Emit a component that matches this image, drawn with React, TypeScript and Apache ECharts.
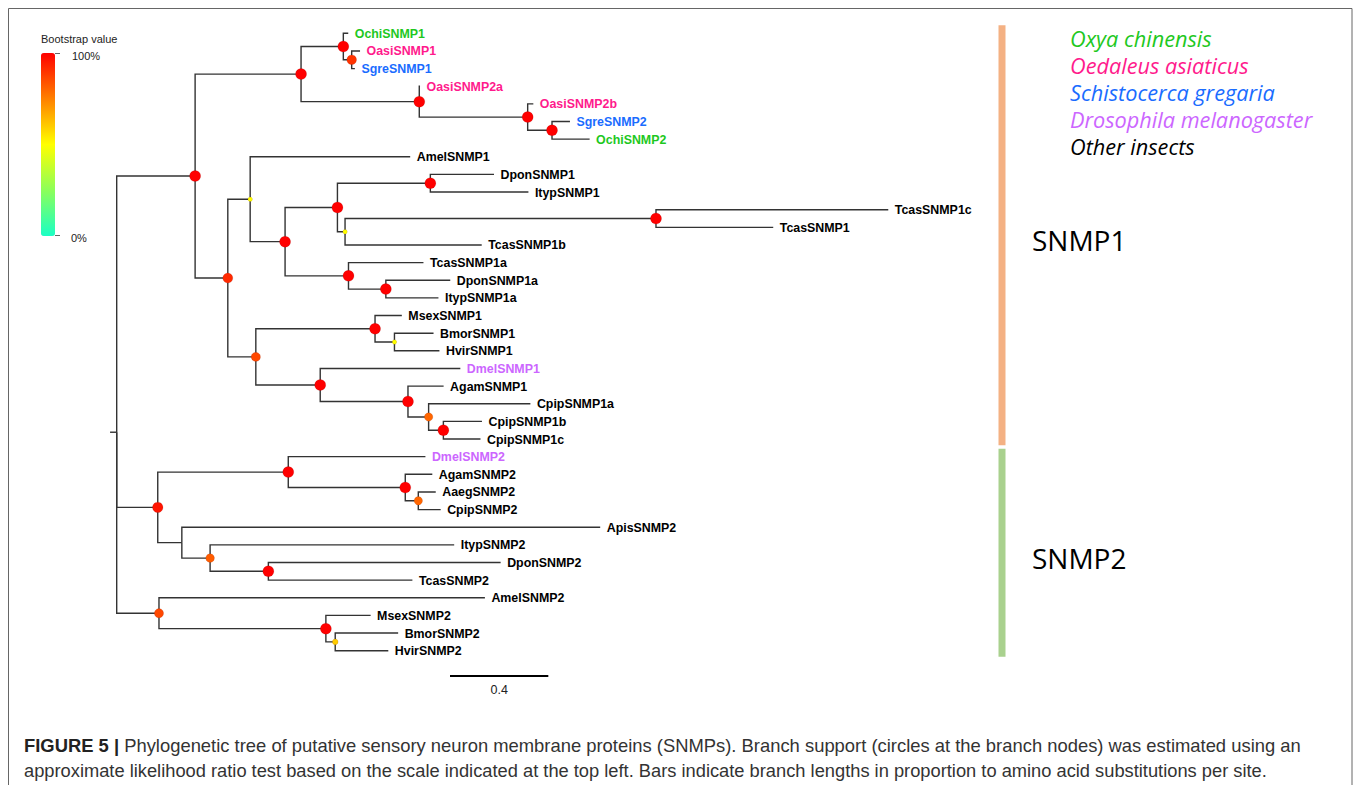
import { useEffect, useRef } from 'react';
import * as echarts from 'echarts';

// ---------- data ----------
const leafNames = [
  'OchiSNMP1', 'OasiSNMP1', 'SgreSNMP1', 'OasiSNMP2a', 'OasiSNMP2b', 'SgreSNMP2', 'OchiSNMP2',
  'AmelSNMP1', 'DponSNMP1', 'ItypSNMP1', 'TcasSNMP1c', 'TcasSNMP1', 'TcasSNMP1b', 'TcasSNMP1a',
  'DponSNMP1a', 'ItypSNMP1a', 'MsexSNMP1', 'BmorSNMP1', 'HvirSNMP1', 'DmelSNMP1', 'AgamSNMP1',
  'CpipSNMP1a', 'CpipSNMP1b', 'CpipSNMP1c', 'DmelSNMP2', 'AgamSNMP2', 'AaegSNMP2', 'CpipSNMP2',
  'ApisSNMP2', 'ItypSNMP2', 'DponSNMP2', 'TcasSNMP2', 'AmelSNMP2', 'MsexSNMP2', 'BmorSNMP2', 'HvirSNMP2',
];

// [child, parent, branch length (substitutions per site)]
const branches: [string, string, number][] = [
  ['A', 'root', 0.319],
  ['A1', 'A', 0.431],
  ['a1', 'A1', 0.172],
  ['OchiSNMP1', 'a1', 0.020],
  ['a2', 'a1', 0.034],
  ['OasiSNMP1', 'a2', 0.034],
  ['SgreSNMP1', 'a2', 0.013],
  ['a3', 'A1', 0.481],
  ['OasiSNMP2a', 'a3', 0.003],
  ['a4', 'a3', 0.441],
  ['OasiSNMP2b', 'a4', 0.023],
  ['a5', 'a4', 0.099],
  ['SgreSNMP2', 'a5', 0.073],
  ['OchiSNMP2', 'a5', 0.153],
  ['B', 'A', 0.133],
  ['b1', 'B', 0.091],
  ['AmelSNMP1', 'b1', 0.651],
  ['b2', 'b1', 0.142],
  ['b3', 'b2', 0.213],
  ['b4', 'b3', 0.378],
  ['DponSNMP1', 'b4', 0.259],
  ['ItypSNMP1', 'b4', 0.399],
  ['b5', 'b3', 0.031],
  ['b6', 'b5', 1.265],
  ['TcasSNMP1c', 'b6', 0.945],
  ['TcasSNMP1', 'b6', 0.477],
  ['TcasSNMP1b', 'b5', 0.556],
  ['b7', 'b2', 0.258],
  ['TcasSNMP1a', 'b7', 0.305],
  ['b8', 'b7', 0.152],
  ['DponSNMP1a', 'b8', 0.262],
  ['ItypSNMP1a', 'b8', 0.214],
  ['C', 'B', 0.114],
  ['c1', 'C', 0.485],
  ['MsexSNMP1', 'c1', 0.109],
  ['c2', 'c1', 0.079],
  ['BmorSNMP1', 'c2', 0.159],
  ['HvirSNMP1', 'c2', 0.183],
  ['c3', 'C', 0.262],
  ['DmelSNMP1', 'c3', 0.570],
  ['c4', 'c3', 0.357],
  ['AgamSNMP1', 'c4', 0.145],
  ['c5', 'c4', 0.084],
  ['CpipSNMP1a', 'c5', 0.414],
  ['c6', 'c5', 0.060],
  ['CpipSNMP1b', 'c6', 0.157],
  ['CpipSNMP1c', 'c6', 0.151],
  ['D', 'root', 0.167],
  ['d1', 'D', 0.531],
  ['DmelSNMP2', 'd1', 0.558],
  ['d2', 'd1', 0.476],
  ['AgamSNMP2', 'd2', 0.110],
  ['d3', 'd2', 0.053],
  ['AaegSNMP2', 'd3', 0.071],
  ['CpipSNMP2', 'd3', 0.091],
  ['E', 'D', 0.098],
  ['ApisSNMP2', 'E', 1.702],
  ['e1', 'E', 0.115],
  ['ItypSNMP2', 'e1', 0.993],
  ['e2', 'e1', 0.237],
  ['DponSNMP2', 'e2', 0.945],
  ['TcasSNMP2', 'e2', 0.586],
  ['F', 'root', 0.172],
  ['AmelSNMP2', 'F', 1.326],
  ['f1', 'F', 0.679],
  ['MsexSNMP2', 'f1', 0.182],
  ['f2', 'f1', 0.038],
  ['BmorSNMP2', 'f2', 0.256],
  ['HvirSNMP2', 'f2', 0.216],
];
const rootStub = 0.027;

const supportNodes = ['A', 'A1', 'a1', 'a2', 'a3', 'a4', 'a5', 'B', 'b1', 'b2', 'b3', 'b4', 'b5', 'b6', 'b7', 'b8',
  'C', 'c1', 'c2', 'c3', 'c4', 'c5', 'c6', 'D', 'd1', 'd2', 'd3', 'e1', 'e2', 'F', 'f1', 'f2'];
const supportValues = [1.0, 1.0, 1.0, 0.9, 1.0, 1.0, 1.0, 0.92, 0.5, 1.0, 1.0, 1.0, 0.5, 1.0, 1.0, 1.0,
  0.86, 1.0, 0.5, 1.0, 1.0, 0.8, 1.0, 0.96, 1.0, 1.0, 0.8, 0.82, 1.0, 0.86, 1.0, 0.6];

const speciesCodes = ['Ochi', 'Oasi', 'Sgre', 'Dmel'];
const speciesLabels = ['Oxya chinensis', 'Oedaleus asiaticus', 'Schistocerca gregaria', 'Drosophila melanogaster', 'Other insects'];
const speciesColors = ['#1ec81e', '#ff1a8c', '#1a6cff', '#cc66ff', '#000000'];

const cladeNames = ['SNMP1', 'SNMP2'];
const cladeFirstLeaf = [0, 24];
const cladeLastLeaf = [23, 35];
const cladeColors = ['#f4b183', '#a9d18e'];

const scaleBarLength = 0.4;
const supportColorStops = ['#1affc4', '#8cff5a', '#ffff00', '#ff8000', '#ff0000'];
const legendTitle = 'Bootstrap value';
const legendTicks = ['100%', '0%'];

const captionBold = 'FIGURE 5 |';
const captionLines = [
  ' Phylogenetic tree of putative sensory neuron membrane proteins (SNMPs). Branch support (circles at the branch nodes) was estimated using an',
  'approximate likelihood ratio test based on the scale indicated at the top left. Bars indicate branch lengths in proportion to amino acid substitutions per site.',
];

// ---------- layout from data ----------
function buildTree() {
  const children: Record<string, string[]> = {};
  const lenOf: Record<string, number> = {};
  const parentOf: Record<string, string> = {};
  branches.forEach(([c, p, l]) => {
    (children[p] = children[p] || []).push(c);
    lenOf[c] = l;
    parentOf[c] = p;
  });
  const xPos: Record<string, number> = { root: 0 };
  const yPos: Record<string, number> = {};
  leafNames.forEach((n, i) => { yPos[n] = i; });
  const setX = (n: string) => {
    (children[n] || []).forEach((c) => { xPos[c] = xPos[n] + lenOf[c]; setX(c); });
  };
  setX('root');
  const getY = (n: string): number => {
    if (yPos[n] !== undefined) return yPos[n];
    const ys = children[n].map(getY);
    yPos[n] = ys.reduce((a, b) => a + b, 0) / ys.length;
    return yPos[n];
  };
  getY('root');
  return { xPos, yPos, parentOf };
}

const fontArial = '"Liberation Sans", Arial, Helvetica, sans-serif';
const fontSegoe = '"Open Sans", "Noto Sans", sans-serif';

export default function App() {
  const ref = useRef<HTMLDivElement>(null);
  useEffect(() => {
    if (!ref.current) return;
    const chart = echarts.init(ref.current, null, { renderer: 'svg' });
    const { xPos, yPos, parentOf } = buildTree();

    const branchData = branches.map(([c]) => [xPos[c], yPos[c], xPos[parentOf[c]], yPos[parentOf[c]]]);
    branchData.push([0, yPos.root, -rootStub, yPos.root]);

    const leafData = leafNames.map((n) => {
      const si = speciesCodes.findIndex((s) => n.startsWith(s));
      return [xPos[n], yPos[n], si < 0 ? 4 : si];
    });
    const nodeData = supportNodes.map((n, i) => [xPos[n], yPos[n], supportValues[i]]);
    const cladeData = cladeNames.map((_n, i) => [cladeFirstLeaf[i], cladeLastLeaf[i], i]);

    const pxPerUnit = 245.8;
    const xMin = -0.2;
    const xMax = 4.8;

    const option: any = {
      animation: false,
      backgroundColor: '#ffffff',
      grid: { left: 116.7 + xMin * pxPerUnit, top: 33.3, width: (xMax - xMin) * pxPerUnit, height: 617.4 },
      xAxis: { type: 'value', min: xMin, max: xMax, show: false },
      yAxis: { type: 'value', min: 0, max: leafNames.length - 1, inverse: true, show: false },
      visualMap: {
        type: 'continuous', min: 0, max: 1, dimension: 2, seriesIndex: 2,
        inRange: { color: supportColorStops },
        left: 41, top: 53, itemWidth: 14, itemHeight: 183, padding: 0,
        calculable: false, hoverLink: false, show: true,
      },
      series: [
        {
          type: 'custom', name: 'branches', data: branchData, silent: true,
          encode: { x: [0, 2], y: [1, 3] },
          renderItem: (_p: any, api: any) => {
            const c = api.coord([api.value(0), api.value(1)]);
            const p = api.coord([api.value(2), api.value(3)]);
            return {
              type: 'polyline',
              shape: { points: [[p[0], p[1]], [p[0], c[1]], [c[0], c[1]]] },
              style: { stroke: '#333333', lineWidth: 1.4, fill: null },
            };
          },
        },
        {
          type: 'custom', name: 'leaves', data: leafData, silent: true,
          encode: { x: 0, y: 1 },
          renderItem: (p: any, api: any) => {
            const c = api.coord([api.value(0), api.value(1)]);
            const si = api.value(2) as number;
            return {
              type: 'text', x: c[0] + 6.5, y: c[1] + 0.5,
              style: {
                text: leafNames[p.dataIndex], fill: speciesColors[si],
                font: `bold 12.4px ${fontArial}`,
                align: 'left', verticalAlign: 'middle', textAlign: 'left', textVerticalAlign: 'middle',
              },
            };
          },
        },
        {
          type: 'scatter', name: 'support', data: nodeData, silent: true,
          symbol: 'circle',
          symbolSize: (v: number[]) => 4.5 + (v[2] - 0.5) * 13,
          itemStyle: { opacity: 1, borderColor: 'rgba(90,0,0,0.25)', borderWidth: 0.5 },
          z: 5,
        },
        {
          type: 'custom', name: 'clades', data: cladeData, silent: true,
          encode: { y: [0, 1] },
          renderItem: (p: any, api: any) => {
            const top = api.coord([0, (api.value(0) as number) - 0.45])[1];
            const bot = api.coord([0, (api.value(1) as number) + 0.35])[1];
            const i = p.dataIndex;
            return {
              type: 'group',
              children: [
                { type: 'rect', shape: { x: 998.5, y: top, width: 7, height: bot - top }, style: { fill: cladeColors[i] } },
                {
                  type: 'text', x: 1032, y: (top + bot) / 2 + 5,
                  style: {
                    text: cladeNames[i], fill: '#000', font: `28px ${fontSegoe}`,
                    align: 'left', verticalAlign: 'middle', textAlign: 'left', textVerticalAlign: 'middle',
                  },
                },
              ],
            };
          },
        },
        {
          type: 'custom', name: 'scalebar', data: [[scaleBarLength]], silent: true,
          renderItem: (_p: any, api: any) => {
            const w = api.size([api.value(0), 0])[0];
            const x0 = 450;
            const y0 = 676;
            return {
              type: 'group',
              children: [
                { type: 'line', shape: { x1: x0, y1: y0, x2: x0 + w, y2: y0 }, style: { stroke: '#000', lineWidth: 2 } },
                {
                  type: 'text', x: x0 + w / 2, y: y0 + 14,
                  style: {
                    text: String(scaleBarLength), fill: '#222', font: `12.5px ${fontArial}`,
                    align: 'center', verticalAlign: 'middle', textAlign: 'center', textVerticalAlign: 'middle',
                  },
                },
              ],
            };
          },
        },
      ],
      graphic: [
        { type: 'rect', shape: { x: 8.5, y: 8.5, width: 1343.5, height: 800 }, style: { fill: null, stroke: '#666', lineWidth: 1 }, silent: true, z: -10 },
        { type: 'text', x: 41, y: 39, style: { text: legendTitle, fill: '#222', font: `11px ${fontArial}`, textVerticalAlign: 'middle', verticalAlign: 'middle' } },
        { type: 'line', shape: { x1: 55, y1: 53.5, x2: 60, y2: 53.5 }, style: { stroke: '#666', lineWidth: 1 } },
        { type: 'line', shape: { x1: 55, y1: 235.5, x2: 60, y2: 235.5 }, style: { stroke: '#666', lineWidth: 1 } },
        { type: 'text', x: 72, y: 56, style: { text: legendTicks[0], fill: '#222', font: `11px ${fontArial}`, textVerticalAlign: 'middle', verticalAlign: 'middle' } },
        { type: 'text', x: 71, y: 238, style: { text: legendTicks[1], fill: '#222', font: `11px ${fontArial}`, textVerticalAlign: 'middle', verticalAlign: 'middle' } },
        ...speciesLabels.map((t, i) => ({
          type: 'text', x: 1070, y: 38.5 + i * 27,
          style: { text: t, fill: speciesColors[i], font: `italic 21.7px ${fontSegoe}`, textVerticalAlign: 'middle', verticalAlign: 'middle' },
        })),
        {
          type: 'text', x: 24, y: 745,
          style: {
            text: `{b|${captionBold}}${captionLines[0]}`,
            fill: '#333', fontSize: 18.4, fontFamily: fontArial,
            textVerticalAlign: 'middle', verticalAlign: 'middle',
            rich: { b: { fontWeight: 'bold', fontSize: 18.4, fontFamily: fontArial, fill: '#222' } },
          },
        },
        {
          type: 'text', x: 24, y: 770,
          style: { text: captionLines[1], fill: '#333', fontSize: 18.3, fontFamily: fontArial, textVerticalAlign: 'middle', verticalAlign: 'middle' },
        },
      ],
    };
    chart.setOption(option);
    return () => chart.dispose();
  }, []);
  return <div ref={ref} style={{ position: 'absolute', left: 0, top: 0, width: 1357, height: 785 }} />;
}
